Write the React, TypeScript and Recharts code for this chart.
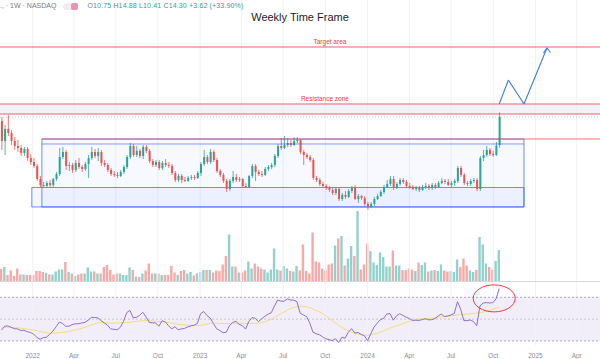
import React from "react";
import {
  ComposedChart,
  Bar,
  Line,
  XAxis,
  YAxis,
  Cell,
  ReferenceLine,
  ReferenceArea,
  ReferenceDot,
} from "recharts";

const DAY = 86400000;
const FIRST_WEEK = Date.UTC(2021, 9, 25);
const T0 = FIRST_WEEK - 3.3 * DAY;
const T1 = T0 + 1308 * DAY;

const UP = "#26a69a";
const DOWN = "#ef5350";
const FONT = "'Liberation Sans', Arial, sans-serif";

// weekly OHLC, Oct 2021 -> Oct 2024
const opens = [
  13.79, 11.26, 12.78, 12.27, 11.26, 10.62, 10.37, 9.74, 10.24, 9.1,
  8.59, 8.09, 6.44, 5.68, 5.55, 5.93, 5.68, 6.44, 7.07, 9.23,
  9.86, 8.09, 8.21, 7.58, 8.47, 7.96, 7.71, 8.34, 9.1, 9.86,
  9.36, 9.86, 8.47, 8.21, 7.58, 7.07, 6.95, 6.82, 7.33, 7.96,
  9.23, 10.62, 9.48, 9.99, 9.36, 10.5, 9.99, 8.72, 8.21, 8.59,
  7.83, 8.47, 8.21, 8.09, 7.2, 6.31, 6.82, 6.31, 6.19, 6.57,
  6.69, 6.57, 7.2, 8.34, 9.23, 8.59, 9.86, 8.85, 7.45, 6.95,
  6.19, 5.17, 6.19, 6.69, 6.31, 6.44, 5.55, 5.42, 6.82, 8.09,
  7.33, 7.07, 6.95, 7.71, 7.96, 8.21, 9.36, 10.62, 10.37, 10.75,
  11.0, 10.75, 11.26, 11.38, 9.86, 9.48, 9.23, 8.85, 6.57, 6.31,
  5.8, 5.55, 5.3, 5.04, 4.66, 5.17, 3.9, 4.41, 4.16, 4.92,
  5.3, 3.9, 4.28, 4.03, 3.27, 2.89, 3.27, 3.9, 4.28, 4.79,
  5.42, 5.8, 6.44, 5.3, 5.8, 6.31, 6.06, 5.55, 5.42, 5.17,
  5.3, 5.04, 5.42, 5.55, 5.3, 5.68, 5.42, 5.93, 6.19, 6.06,
  5.68, 5.93, 6.19, 7.83, 6.95, 5.93, 5.8, 6.19, 6.31, 5.17,
  9.1, 9.48, 10.12, 9.61, 9.48, 10.75,
];
const highs = [
  14.3, 13.29, 14.55, 12.65, 11.76, 11.38, 10.75, 10.5, 10.5, 9.61,
  9.1, 8.34, 6.82, 6.06, 6.19, 6.31, 6.57, 7.33, 10.37, 10.5,
  10.12, 8.59, 8.47, 8.85, 9.1, 8.21, 8.59, 9.48, 10.5, 10.24,
  10.37, 10.12, 8.85, 8.47, 7.83, 7.45, 7.33, 7.58, 8.21, 9.48,
  11.0, 10.88, 10.62, 10.24, 10.75, 10.75, 10.24, 8.97, 8.85, 8.85,
  8.72, 8.97, 8.59, 8.34, 7.45, 7.07, 7.07, 6.69, 6.82, 6.95,
  6.95, 7.45, 8.59, 10.12, 9.48, 10.24, 10.12, 9.1, 7.71, 7.2,
  6.44, 6.44, 7.45, 7.07, 6.69, 6.57, 5.93, 6.95, 8.34, 8.34,
  7.58, 7.45, 7.96, 8.21, 8.47, 9.61, 10.88, 11.64, 11.89, 11.64,
  11.38, 11.76, 11.76, 11.51, 10.12, 9.74, 9.48, 9.1, 6.82, 6.57,
  6.06, 5.8, 5.55, 5.3, 5.42, 5.42, 4.66, 4.92, 5.17, 5.55,
  5.68, 4.54, 4.41, 4.28, 3.52, 3.52, 4.16, 4.54, 5.04, 5.68,
  6.31, 6.82, 6.82, 6.06, 6.57, 6.57, 6.31, 5.93, 5.68, 5.55,
  5.55, 5.68, 5.93, 5.8, 5.93, 5.93, 6.19, 6.57, 6.44, 6.44,
  6.19, 6.44, 8.09, 8.09, 7.2, 6.19, 6.44, 6.57, 6.57, 9.36,
  10.12, 10.62, 10.37, 9.99, 11.13, 14.88,
];
const lows = [
  10.12, 9.48, 11.89, 10.75, 10.12, 9.86, 9.36, 9.36, 8.72, 8.21,
  7.83, 6.19, 5.42, 5.3, 5.3, 5.42, 5.42, 6.19, 6.82, 8.97,
  7.58, 7.45, 7.2, 7.33, 7.71, 7.33, 7.45, 6.57, 8.85, 9.1,
  8.72, 8.09, 7.96, 7.33, 6.82, 6.69, 6.57, 6.69, 7.07, 7.71,
  8.97, 9.23, 9.23, 9.1, 8.97, 9.74, 8.47, 7.96, 7.96, 7.58,
  7.58, 7.96, 7.83, 6.95, 6.06, 6.06, 5.93, 6.06, 6.06, 6.31,
  6.31, 6.44, 6.82, 8.09, 8.34, 8.34, 8.59, 7.2, 6.69, 5.93,
  4.79, 4.92, 5.93, 6.06, 6.06, 5.3, 5.3, 5.3, 6.57, 6.19,
  6.82, 6.69, 6.82, 7.45, 7.71, 7.96, 9.1, 10.12, 10.24, 10.5,
  10.5, 10.62, 11.0, 9.61, 8.21, 8.97, 8.59, 6.31, 6.06, 5.55,
  5.3, 5.04, 4.79, 4.41, 4.41, 3.65, 3.65, 3.9, 4.03, 4.66,
  3.78, 3.4, 3.78, 3.02, 2.51, 2.76, 3.02, 3.78, 4.16, 4.54,
  5.3, 5.55, 5.04, 5.17, 5.55, 5.8, 5.42, 5.17, 5.04, 4.92,
  4.79, 4.92, 5.17, 5.04, 5.04, 5.17, 5.3, 5.8, 5.8, 5.55,
  5.42, 5.55, 5.93, 6.69, 5.68, 5.55, 5.55, 5.93, 4.92, 4.92,
  8.72, 9.23, 9.36, 9.23, 9.36, 10.41,
];
const closes = [
  11.26, 12.78, 12.27, 11.26, 10.62, 10.37, 9.74, 10.24, 9.1, 8.59,
  8.09, 6.44, 5.68, 5.55, 5.93, 5.68, 6.44, 7.07, 9.23, 9.86,
  8.09, 8.21, 7.58, 8.47, 7.96, 7.71, 8.34, 9.1, 9.86, 9.36,
  9.86, 8.47, 8.21, 7.58, 7.07, 6.95, 6.82, 7.33, 7.96, 9.23,
  10.62, 9.48, 9.99, 9.36, 10.5, 9.99, 8.72, 8.21, 8.59, 7.83,
  8.47, 8.21, 8.09, 7.2, 6.31, 6.82, 6.31, 6.19, 6.57, 6.69,
  6.57, 7.2, 8.34, 9.23, 8.59, 9.86, 8.85, 7.45, 6.95, 6.19,
  5.17, 6.19, 6.69, 6.31, 6.44, 5.55, 5.42, 6.82, 8.09, 7.33,
  7.07, 6.95, 7.71, 7.96, 8.21, 9.36, 10.62, 10.37, 10.75, 11.0,
  10.75, 11.26, 11.38, 9.86, 9.48, 9.23, 8.85, 6.57, 6.31, 5.8,
  5.55, 5.3, 5.04, 4.66, 5.17, 3.9, 4.41, 4.16, 4.92, 5.3,
  3.9, 4.28, 4.03, 3.27, 2.89, 3.27, 3.9, 4.28, 4.79, 5.42,
  5.8, 6.44, 5.3, 5.8, 6.31, 6.06, 5.55, 5.42, 5.17, 5.3,
  5.04, 5.42, 5.55, 5.3, 5.68, 5.42, 5.93, 6.19, 6.06, 5.68,
  5.93, 6.19, 7.83, 6.95, 5.93, 5.8, 6.19, 6.31, 5.17, 9.1,
  9.48, 10.12, 9.61, 9.48, 10.68, 14.3,
];
// volume, millions
const volumes = [
  24, 28, 12, 21, 10, 25, 13, 13, 12, 12,
  12, 20, 20, 18, 16, 13, 13, 19, 23, 23,
  38, 18, 15, 10, 13, 15, 15, 27, 19, 19,
  15, 15, 28, 32, 22, 13, 15, 15, 12, 12,
  27, 22, 9, 8, 15, 21, 35, 15, 15, 15,
  12, 12, 12, 30, 17, 12, 20, 22, 15, 18,
  11, 15, 18, 22, 22, 22, 17, 21, 20, 33,
  50, 93, 29, 29, 17, 17, 21, 39, 25, 35,
  29, 25, 23, 17, 23, 65, 23, 21, 30, 25,
  20, 19, 30, 21, 73, 20, 15, 97, 39, 37,
  25, 21, 33, 35, 71, 85, 90, 31, 45, 70,
  50, 140, 23, 33, 75, 60, 37, 32, 57, 48,
  29, 29, 61, 31, 31, 22, 22, 25, 23, 20,
  37, 32, 37, 19, 21, 22, 20, 33, 21, 19,
  20, 18, 43, 28, 45, 31, 21, 18, 22, 88,
  73, 35, 28, 23, 40, 62,
];
const rsiValues = [
  40, 43.5, 43.8, 42.5, 41.2, 41, 39.6, 39.8, 38.5, 37.8,
  36.2, 33.4, 31.5, 33, 33.5, 36, 39, 43, 47.3, 46,
  43.5, 43.5, 45, 45.7, 45.8, 46.5, 47, 49, 51.6, 51.5,
  51.2, 48.6, 46.5, 44.5, 41, 40.7, 40.2, 42.5, 48, 56,
  58, 51.2, 51.6, 53.5, 56.3, 52, 47, 46.6, 46.5, 43.5,
  48.5, 47.5, 44, 41, 43, 40.3, 41, 41.5, 42.8, 43.8,
  44.5, 46, 55, 57, 53.2, 51, 46, 41.2, 39.5, 37.6,
  38, 44, 47, 48, 45.2, 44, 40.9, 47.7, 51.4, 50.8,
  47.7, 50.1, 52.6, 54.5, 55.8, 62, 67.5, 66.5, 66.4, 68.5,
  67.5, 67.4, 66, 55.4, 53.8, 52.3, 46.5, 38, 36.6, 35.7,
  33.8, 32, 31.2, 30.4, 32, 28.6, 33.4, 32.5, 38, 41.3,
  37.3, 37.8, 36, 34.8, 30.3, 36.5, 42.6, 46.3, 49.5, 50.7,
  54.8, 55, 49, 53, 55, 53.4, 51.8, 50.6, 48.8, 49,
  48.8, 49.5, 50.4, 49.3, 49.5, 50.5, 53, 54.6, 52.3, 52.9,
  53.8, 55.3, 66, 59, 48.6, 48.6, 49.2, 47.7, 44, 62,
  64.8, 65.1, 64.8, 65, 68.5, 78,
];
const rsiMaValues = [
  42.5, 42.5, 42.4, 42.3, 42.2, 42.1, 41.7, 41.3, 40.9, 40.4,
  40, 39.4, 38.8, 38.2, 37.6, 37.1, 37, 37.3, 37.6, 37.9,
  38.2, 38.8, 39.5, 40.2, 40.9, 41.6, 42.6, 43.6, 44.6, 45.6,
  46.5, 46.8, 46.6, 46.4, 46.3, 46.2, 46.3, 46.5, 46.8, 47,
  47.2, 47.5, 47.9, 48.2, 48.5, 48.6, 48.5, 48.2, 48, 47.8,
  47.6, 47.3, 46.8, 46.3, 45.8, 45.3, 45, 44.7, 44.4, 44.2,
  44, 44.1, 44.5, 45, 45.5, 46, 46.2, 46.2, 46.1, 46,
  46, 46.1, 46.2, 46.2, 46.2, 46.1, 46, 46, 46.1, 46.2,
  46.2, 46.8, 47.6, 48.6, 49.8, 51.5, 53.2, 55, 56.6, 58.2,
  59.6, 60.8, 61.5, 62, 61.7, 61.2, 60.4, 59.3, 58, 56.6,
  55, 53, 50.8, 48.5, 46.4, 44.5, 42.5, 40.8, 39.5, 38.2,
  37.1, 36.2, 35.6, 35.2, 35.2, 35.6, 36.3, 37, 38, 39.2,
  40.5, 41.7, 42.8, 43.8, 44.9, 45.9, 46.9, 47.8, 48.7, 49.5,
  50, 50.3, 50.5, 50.7, 50.9, 51.2, 51.6, 52, 52.4, 52.8,
  53.1, 53.4, 53.8, 54.1, 54.3, 54.6, 55, 55.3, 55.6, 56,
  56.5, 57.2, 58, 59, 60, 61,
];

const tickDates = [
  Date.UTC(2022, 0, 1), Date.UTC(2022, 3, 1), Date.UTC(2022, 6, 1), Date.UTC(2022, 9, 1),
  Date.UTC(2023, 0, 1), Date.UTC(2023, 3, 1), Date.UTC(2023, 6, 1), Date.UTC(2023, 9, 1),
  Date.UTC(2024, 0, 1), Date.UTC(2024, 3, 1), Date.UTC(2024, 6, 1), Date.UTC(2024, 9, 1),
  Date.UTC(2025, 0, 1), Date.UTC(2025, 3, 1),
];
const tickLabels = ["2022", "Apr", "Jul", "Oct", "2023", "Apr", "Jul", "Oct", "2024", "Apr", "Jul", "Oct", "2025", "Apr"];

// drawing levels
const TARGET = 23.18;
const RES_TOP = 15.95;
const RES_BOTTOM = 14.68;
const LAST_PRICE = 14.3;
const RANGE_TOP = 11.51;
const RANGE_MID = 10.88;
const RANGE_FLOOR = 5.36;
const RANGE_BOTTOM = 2.89;
const BOX_START = Date.UTC(2022, 0, 21);
const BOX_B_START = Date.UTC(2021, 11, 30);
const BOX_END = Date.UTC(2024, 11, 7);
const arrowPath = [
  { x: Date.UTC(2024, 9, 14), y: 15.95 },
  { x: Date.UTC(2024, 10, 3), y: 18.99 },
  { x: Date.UTC(2024, 11, 7), y: 15.95 },
  { x: Date.UTC(2025, 0, 26), y: 23.05 },
];

const candles = closes.map((close, i) => ({
  t: FIRST_WEEK + i * 7 * DAY,
  open: opens[i],
  high: highs[i],
  low: lows[i],
  close,
  range: [lows[i], highs[i]],
  volume: volumes[i],
  rsi: rsiValues[i],
  rsiMa: rsiMaValues[i],
}));

function Candle(props: any) {
  const { x, y, width, height, payload } = props;
  const { open, close, high, low } = payload;
  const color = close >= open ? UP : DOWN;
  const top = Math.min(y, y + height);
  const h = Math.abs(height);
  const k = high === low ? 0 : h / (high - low);
  const yOf = (v: number) => top + (high - v) * k;
  const bodyTop = yOf(Math.max(open, close));
  const bodyBot = yOf(Math.min(open, close));
  const cx = x + width / 2;
  return (
    <g>
      <line x1={cx} x2={cx} y1={top} y2={top + h} stroke={color} strokeWidth={0.8} />
      <rect x={x} y={bodyTop} width={width} height={Math.max(0.8, bodyBot - bodyTop)} fill={color} />
    </g>
  );
}

const ArrowHead = (props: any) => {
  const { cx, cy } = props;
  return (
    <path
      d={`M${cx - 3.5},${cy + 5} L${cx},${cy} L${cx + 3.5},${cy + 4.5}`}
      fill="none"
      stroke="#3d7bf7"
      strokeWidth={1.1}
    />
  );
};

const textDot = (label: string) => (props: any) => (
  <text
    x={props.cx}
    y={props.cy}
    textAnchor="middle"
    dominantBaseline="middle"
    fontSize={6.5}
    fontFamily={FONT}
    fill="#f23645"
  >
    {label}
  </text>
);

const Ellipse = (props: any) => (
  <ellipse cx={props.cx} cy={props.cy} rx={21} ry={13.5} fill="none" stroke="#f23645" strokeWidth={1} />
);

const PRICE_H = 281;
const margin = { top: 0, right: 0, left: 0, bottom: 0 };

function gridLines(yId: string) {
  return tickDates.map((d) => (
    <ReferenceLine key={d} x={d} yAxisId={yId} stroke="#f0f2f7" strokeWidth={1} />
  ));
}

const gray = { color: "#787b86" };

export default function App() {
  return (
    <div
      style={{
        position: "fixed",
        left: 0,
        top: 0,
        width: 600,
        height: 359,
        background: "#ffffff",
        overflow: "hidden",
        fontFamily: FONT,
      }}
    >
      {/* volume layer */}
      <div style={{ position: "absolute", left: 0, top: 0 }}>
        <ComposedChart width={600} height={PRICE_H} data={candles} margin={margin}>
          <XAxis dataKey="t" type="number" domain={[T0, T1]} hide allowDataOverflow />
          <YAxis yAxisId="vol" domain={[0, 562]} hide allowDataOverflow />
          {gridLines("vol")}
          <Bar yAxisId="vol" dataKey="volume" barSize={2.4} isAnimationActive={false}>
            {candles.map((c, i) => (
              <Cell key={i} fill={c.close >= c.open ? "#92d2cc" : "#f7a9a7"} />
            ))}
          </Bar>
        </ComposedChart>
      </div>

      {/* price layer */}
      <div style={{ position: "absolute", left: 0, top: 0 }}>
        <ComposedChart width={600} height={PRICE_H} data={candles} margin={margin}>
          <XAxis dataKey="t" type="number" domain={[T0, T1]} hide allowDataOverflow />
          <YAxis yAxisId="p" domain={[-6.5, 29.14]} hide allowDataOverflow />
          <ReferenceArea yAxisId="p" y1={RES_BOTTOM} y2={RES_TOP} fill="#e9ebf5" fillOpacity={0.6} />
          <ReferenceLine yAxisId="p" y={TARGET} stroke="#f23645" strokeOpacity={0.8} />
          <ReferenceLine yAxisId="p" y={RES_TOP} stroke="#f23645" strokeOpacity={0.8} />
          <ReferenceLine yAxisId="p" y={RES_BOTTOM} stroke="#f23645" strokeOpacity={0.8} />
          <ReferenceLine yAxisId="p" y={LAST_PRICE} stroke="#9fb5a9" strokeDasharray="1 2" strokeWidth={0.7} />
          <ReferenceArea
            yAxisId="p"
            x1={BOX_START}
            x2={BOX_END}
            y1={RANGE_BOTTOM}
            y2={RANGE_TOP}
            fill="#2962ff"
            fillOpacity={0.04}
            stroke="#2962ff"
            strokeOpacity={0.7}
          />
          <ReferenceArea
            yAxisId="p"
            x1={BOX_B_START}
            x2={BOX_END}
            y1={RANGE_BOTTOM}
            y2={RANGE_FLOOR}
            fill="#2962ff"
            fillOpacity={0.05}
            stroke="#2962ff"
            strokeOpacity={0.7}
          />
          <ReferenceLine
            yAxisId="p"
            segment={[{ x: BOX_START, y: RANGE_MID }, { x: BOX_END, y: RANGE_MID }]}
            stroke="#2962ff"
            strokeOpacity={0.6}
          />
          <ReferenceLine
            yAxisId="p"
            segment={[{ x: BOX_START, y: RANGE_TOP }, { x: T1, y: RANGE_TOP }]}
            stroke="#f23645"
            strokeOpacity={0.7}
          />
          <ReferenceDot yAxisId="p" x={Date.UTC(2023, 9, 11)} y={23.81} shape={textDot("Target area")} />
          <ReferenceDot yAxisId="p" x={Date.UTC(2023, 8, 30)} y={16.58} shape={textDot("Resistance zone")} />
          {arrowPath.slice(1).map((p, i) => (
            <ReferenceLine
              key={i}
              yAxisId="p"
              segment={[arrowPath[i], p]}
              stroke="#3d7bf7"
              strokeWidth={1.1}
            />
          ))}
          <ReferenceDot
            yAxisId="p"
            x={arrowPath[3].x}
            y={arrowPath[3].y}
            shape={<ArrowHead />}
          />
          <Bar yAxisId="p" dataKey="range" barSize={2} shape={<Candle />} isAnimationActive={false} />
        </ComposedChart>
      </div>

      <div style={{ position: "absolute", left: 0, top: 281, width: 600, height: 1, background: "#d6d8de" }} />

      {/* RSI pane */}
      <div style={{ position: "absolute", left: 0, top: 282 }}>
        <ComposedChart width={600} height={77} data={candles} margin={margin}>
          <XAxis
            dataKey="t"
            type="number"
            domain={[T0, T1]}
            ticks={tickDates}
            tickFormatter={(v: number) => tickLabels[tickDates.indexOf(v)]}
            axisLine={false}
            tickLine={false}
            height={14}
            tick={{ fontSize: 6.5, fill: "#8a8e99", fontFamily: FONT }}
            allowDataOverflow
          />
          <YAxis yAxisId="r" domain={[26.3, 84]} hide allowDataOverflow />
          {gridLines("r")}
          <ReferenceArea yAxisId="r" y1={30} y2={70} fill="#7e57c2" fillOpacity={0.1} />
          <ReferenceLine yAxisId="r" y={70} stroke="#9598a1" strokeDasharray="2 2" strokeWidth={0.8} />
          <ReferenceLine yAxisId="r" y={50} stroke="#9598a1" strokeDasharray="2 2" strokeWidth={0.8} strokeOpacity={0.6} />
          <ReferenceLine yAxisId="r" y={30} stroke="#9598a1" strokeDasharray="2 2" strokeWidth={0.8} />
          <Line yAxisId="r" dataKey="rsiMa" stroke="#f5dc7a" strokeWidth={1} dot={false} activeDot={false} isAnimationActive={false} />
          <Line yAxisId="r" dataKey="rsi" stroke="#8e6fd0" strokeWidth={1} dot={false} activeDot={false} isAnimationActive={false} />
          <ReferenceDot yAxisId="r" x={Date.UTC(2024, 9, 3)} y={69} shape={<Ellipse />} />
        </ComposedChart>
      </div>

      {/* header */}
      <div
        style={{
          position: "absolute",
          left: 0,
          top: 1,
          fontSize: 7,
          lineHeight: "10px",
          whiteSpace: "nowrap",
          display: "flex",
          alignItems: "center",
        }}
      >
        <span style={gray}>., · 1W · NASDAQ</span>
        <span
          style={{
            marginLeft: 7,
            width: 15,
            height: 7,
            borderRadius: 4,
            background: "#eceef2",
            position: "relative",
            display: "inline-block",
          }}
        >
          <span
            style={{
              position: "absolute",
              right: 0,
              top: 0,
              width: 7,
              height: 7,
              borderRadius: 2,
              background: "#f48fb1",
            }}
          />
        </span>
        <span style={{ marginLeft: 9, color: "#26a69a", letterSpacing: 0.15 }}>
          <span style={gray}>O</span>10.75 <span style={gray}>H</span>14.88{" "}
          <span style={gray}>L</span>10.41 <span style={gray}>C</span>14.30 +3.62 (+33.90%)
        </span>
      </div>

      <div
        style={{
          position: "absolute",
          left: 0,
          top: 11,
          width: 600,
          textAlign: "center",
          fontSize: 11,
          color: "#1e222d",
        }}
      >
        Weekly Time Frame
      </div>
    </div>
  );
}
